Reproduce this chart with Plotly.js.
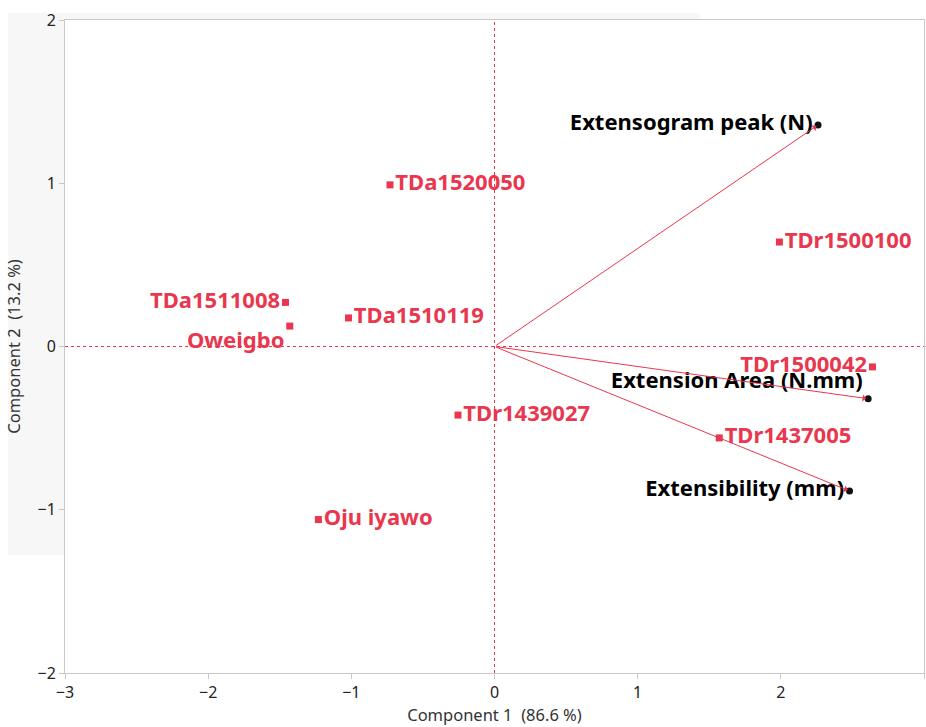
<!DOCTYPE html>
<html><head><meta charset="utf-8">
<script src="https://cdn.plot.ly/plotly-3.0.1.min.js"></script>
<style>html,body{margin:0;padding:0;background:#fff}#chart{width:926px;height:727px}</style>
</head><body><div id="chart"></div>
<script>
// Scores (samples)
const sampleNames = ["TDa1520050","TDr1500100","TDa1511008","Oweigbo","TDa1510119","TDr1500042","TDr1439027","TDr1437005","Oju iyawo"];
const sampleX = [-0.73, 1.99, -1.46, -1.43, -1.02, 2.64, -0.255, 1.57, -1.23];
const sampleY = [0.99, 0.64, 0.27, 0.125, 0.175, -0.125, -0.42, -0.56, -1.06];
const sampleTextPos = ["middle right","middle right","middle left","bottom left","middle right","middle left","middle right","middle right","middle right"];
// Loadings (variables)
const varNames = ["Extensogram peak (N)","Extension Area (N.mm)","Extensibility (mm)"];
const varX = [2.26, 2.61, 2.48];
const varY = [1.357, -0.32, -0.885];
const varTextPos = ["middle left","top left","middle left"];
const xTitle = "Component 1  (86.6 %)";
const yTitle = "Component 2  (13.2 %)";

const red = "#e8374e";
const font = "Noto Sans, Open Sans, sans-serif";

const traces = [
  {type:"scatter", mode:"markers+text", x:sampleX, y:sampleY, text:sampleNames,
   textposition:sampleTextPos, marker:{symbol:"square", size:7, color:red},
   textfont:{family:font, size:22, color:red, weight:"bold"}, hoverinfo:"text", cliponaxis:false},
  {type:"scatter", mode:"markers+text", x:varX, y:varY, text:varNames,
   textposition:varTextPos, marker:{symbol:"circle", size:7, color:"#111"},
   textfont:{family:font, size:22, color:"#000", weight:"bold"}, hoverinfo:"text", cliponaxis:false}
];

const annotations = varX.map((vx,i)=>({x:vx, y:varY[i], ax:0, ay:0, xref:"x", yref:"y", axref:"x", ayref:"y",
  text:"", showarrow:true, arrowhead:1, arrowsize:1.2, arrowwidth:1, arrowcolor:red, standoff:2}));

const px = v => (v-65)/859, py = v => (673-v)/653;
const shapes = [
  {type:"rect", xref:"paper", yref:"paper", x0:px(8), x1:px(700), y0:py(555), y1:py(13), fillcolor:"#f7f7f7", line:{width:0}, layer:"below"},
  {type:"rect", xref:"paper", yref:"paper", x0:0, x1:1, y0:0, y1:1, fillcolor:"#ffffff", line:{width:0}, layer:"below"},
  {type:"line", xref:"x", yref:"paper", x0:0, x1:0, y0:0, y1:1, line:{color:red, width:1, dash:"dot"}, layer:"below"},
  {type:"line", xref:"paper", yref:"y", x0:0, x1:1, y0:0, y1:0, line:{color:red, width:1, dash:"dot"}, layer:"below"}
];

const axisCommon = {showgrid:false, zeroline:false, showline:true, mirror:true, linecolor:"#c8c8c8", linewidth:1,
  ticks:"outside", ticklen:5, tickcolor:"#c8c8c8", tickfont:{family:font, size:16, color:"#222"}, dtick:1};

const layout = {
  width:926, height:727, margin:{l:65, r:2, t:20, b:54},
  paper_bgcolor:"#fff", plot_bgcolor:"rgba(0,0,0,0)", showlegend:false,
  xaxis:Object.assign({}, axisCommon, {range:[-3,3], title:{text:xTitle, font:{family:font, size:16.5, color:"#333"}, standoff:6}}),
  yaxis:Object.assign({}, axisCommon, {range:[-2,2], title:{text:yTitle, font:{family:font, size:16.5, color:"#333"}, standoff:12}}),
  shapes:shapes, annotations:annotations
};
Plotly.newPlot("chart", traces, layout, {displayModeBar:false, staticPlot:true});
</script></body></html>
